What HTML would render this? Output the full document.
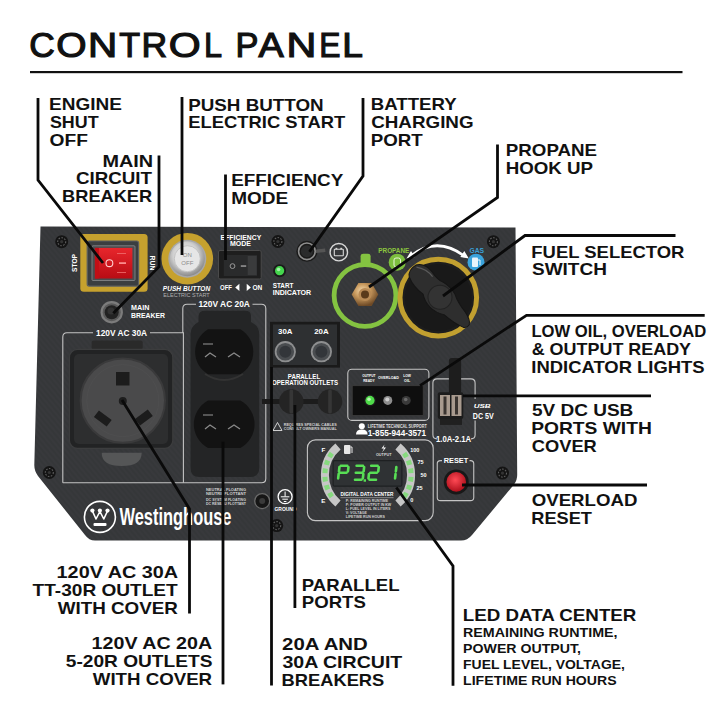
<!DOCTYPE html><html><head><meta charset="utf-8"><style>html,body{margin:0;padding:0;background:#fff;}svg{display:block;}text{font-family:"Liberation Sans",sans-serif;}</style></head><body>
<svg width="720" height="720" viewBox="0 0 720 720">
<defs><pattern id="cf" width="4" height="4" patternUnits="userSpaceOnUse" patternTransform="rotate(-40)"><rect width="4" height="4" fill="#353739"/><rect width="2" height="4" fill="#38393c"/></pattern><radialGradient id="silver" cx="45%" cy="40%" r="60%"><stop offset="0" stop-color="#f4f4f4"/><stop offset="0.6" stop-color="#d0d0d0"/><stop offset="1" stop-color="#8a8a8a"/></radialGradient><radialGradient id="brass" cx="40%" cy="35%" r="65%"><stop offset="0" stop-color="#f5dcb0"/><stop offset="0.45" stop-color="#c99a5e"/><stop offset="1" stop-color="#6e4a26"/></radialGradient><radialGradient id="redbtn" cx="45%" cy="40%" r="60%"><stop offset="0" stop-color="#ff4a55"/><stop offset="1" stop-color="#b0101c"/></radialGradient><radialGradient id="knob" cx="45%" cy="40%" r="60%"><stop offset="0" stop-color="#5a5a5a"/><stop offset="1" stop-color="#1a1a1a"/></radialGradient></defs>
<rect width="720" height="720" fill="#fff"/>
<text x="29.20" y="56.7" font-size="35.32" textLength="25.54" lengthAdjust="spacingAndGlyphs" fill="#111" stroke="#111" stroke-width="1.2">C</text>
<text x="56.25" y="56.7" font-size="35.32" textLength="30.31" lengthAdjust="spacingAndGlyphs" fill="#111" stroke="#111" stroke-width="1.2">O</text>
<text x="88.08" y="56.7" font-size="35.32" textLength="29.22" lengthAdjust="spacingAndGlyphs" fill="#111" stroke="#111" stroke-width="1.2">N</text>
<text x="119.23" y="56.7" font-size="35.32" textLength="20.85" lengthAdjust="spacingAndGlyphs" fill="#111" stroke="#111" stroke-width="1.2">T</text>
<text x="141.43" y="56.7" font-size="35.32" textLength="25.72" lengthAdjust="spacingAndGlyphs" fill="#111" stroke="#111" stroke-width="1.2">R</text>
<text x="168.66" y="56.7" font-size="35.32" textLength="31.91" lengthAdjust="spacingAndGlyphs" fill="#111" stroke="#111" stroke-width="1.2">O</text>
<text x="203.94" y="56.7" font-size="35.32" textLength="18.04" lengthAdjust="spacingAndGlyphs" fill="#111" stroke="#111" stroke-width="1.2">L</text>
<text x="235.38" y="56.7" font-size="35.32" textLength="22.93" lengthAdjust="spacingAndGlyphs" fill="#111" stroke="#111" stroke-width="1.2">P</text>
<text x="258.53" y="56.7" font-size="35.32" textLength="25.25" lengthAdjust="spacingAndGlyphs" fill="#111" stroke="#111" stroke-width="1.2">A</text>
<text x="286.41" y="56.7" font-size="35.32" textLength="29.86" lengthAdjust="spacingAndGlyphs" fill="#111" stroke="#111" stroke-width="1.2">N</text>
<text x="319.24" y="56.7" font-size="35.32" textLength="21.23" lengthAdjust="spacingAndGlyphs" fill="#111" stroke="#111" stroke-width="1.2">E</text>
<text x="342.15" y="56.7" font-size="35.32" textLength="20.69" lengthAdjust="spacingAndGlyphs" fill="#111" stroke="#111" stroke-width="1.2">L</text>
<rect x="30" y="71" width="652.5" height="2.2" fill="#111"/>
<path d="M40.5,226.5 L515.5,227.5 L517.2,474 Q517.4,480 514,484.5 L472,535 Q467.5,540.5 461,540.5 L95,540.5 Q89,540.5 85,535 L38,476 Q34.3,471 34.3,465 Z" fill="url(#cf)"/>
<circle cx="61.7" cy="241.7" r="6.5" fill="#141414"/><circle cx="61.7" cy="241.7" r="4.0" fill="none" stroke="#5e5e5e" stroke-width="1.1" stroke-dasharray="1.6 1.4"/><circle cx="61.7" cy="241.7" r="1.6" fill="#333"/>
<circle cx="277.9" cy="241.5" r="6.5" fill="#141414"/><circle cx="277.9" cy="241.5" r="4.0" fill="none" stroke="#5e5e5e" stroke-width="1.1" stroke-dasharray="1.6 1.4"/><circle cx="277.9" cy="241.5" r="1.6" fill="#333"/>
<circle cx="493.4" cy="241.7" r="6.5" fill="#141414"/><circle cx="493.4" cy="241.7" r="4.0" fill="none" stroke="#5e5e5e" stroke-width="1.1" stroke-dasharray="1.6 1.4"/><circle cx="493.4" cy="241.7" r="1.6" fill="#333"/>
<circle cx="49.3" cy="472.5" r="6.5" fill="#141414"/><circle cx="49.3" cy="472.5" r="4.0" fill="none" stroke="#5e5e5e" stroke-width="1.1" stroke-dasharray="1.6 1.4"/><circle cx="49.3" cy="472.5" r="1.6" fill="#333"/>
<circle cx="502.5" cy="473.1" r="6.5" fill="#141414"/><circle cx="502.5" cy="473.1" r="4.0" fill="none" stroke="#5e5e5e" stroke-width="1.1" stroke-dasharray="1.6 1.4"/><circle cx="502.5" cy="473.1" r="1.6" fill="#333"/>
<circle cx="276.7" cy="525.6" r="6.5" fill="#141414"/><circle cx="276.7" cy="525.6" r="4.0" fill="none" stroke="#5e5e5e" stroke-width="1.1" stroke-dasharray="1.6 1.4"/><circle cx="276.7" cy="525.6" r="1.6" fill="#333"/>
<rect x="80.3" y="234" width="67.3" height="57.7" rx="3.5" fill="#c6a12e"/>
<rect x="87.2" y="241" width="51.4" height="45.1" rx="2" fill="#3b3e40" stroke="#5c5f61" stroke-width="1.2"/>
<rect x="92" y="245.8" width="43" height="34.7" rx="1" fill="#4a4d50" stroke="#8a8c8e" stroke-width="0.8"/>
<linearGradient id="redg" x1="0" y1="0" x2="0" y2="1"><stop offset="0" stop-color="#e8262c"/><stop offset="1" stop-color="#b80c14"/></linearGradient>
<rect x="94.9" y="247.9" width="37.5" height="30.6" fill="url(#redg)"/>
<rect x="94.9" y="247.9" width="4" height="30.6" fill="#c20e16"/>
<circle cx="109.4" cy="263.2" r="3.4" fill="none" stroke="#ffd0d0" stroke-width="1.1"/>
<rect x="119" y="262.3" width="7" height="1.6" fill="#ff9a9a"/>
<rect x="117" y="253" width="9" height="0.8" fill="#f07070"/><rect x="117" y="272" width="9" height="0.8" fill="#f07070"/>
<text x="0" y="0" font-size="7.4" fill="#fff" text-anchor="middle" font-weight="bold" transform="translate(77.4,263) rotate(-90)" textLength="18" lengthAdjust="spacingAndGlyphs">STOP</text>
<text x="0" y="0" font-size="7.4" fill="#fff" text-anchor="middle" font-weight="bold" transform="translate(149.8,263) rotate(90)" textLength="15" lengthAdjust="spacingAndGlyphs">RUN</text>
<circle cx="187.3" cy="258.7" r="25.8" fill="#c6a12e"/>
<circle cx="187.3" cy="258.7" r="19" fill="#a8a8a8"/>
<circle cx="187.3" cy="258.7" r="17.5" fill="url(#silver)"/>
<circle cx="187.3" cy="258.7" r="13" fill="#e6e6e6" stroke="#bdbdbd" stroke-width="0.8"/>
<text x="187.3" y="257.3" font-size="6" fill="#8a8a8a" text-anchor="middle" font-weight="normal" >ON</text>
<text x="187.3" y="264.8" font-size="6" fill="#8a8a8a" text-anchor="middle" font-weight="normal" >OFF</text>
<text x="186.5" y="290.6" font-size="7.2" fill="#fff" text-anchor="middle" font-weight="bold" font-style="italic" textLength="47.3" lengthAdjust="spacingAndGlyphs">PUSH BUTTON</text>
<text x="186.5" y="296.6" font-size="6.2" fill="#b0b0b0" text-anchor="middle" font-weight="normal" textLength="46.3" lengthAdjust="spacingAndGlyphs">ELECTRIC START</text>
<text x="240.9" y="239.5" font-size="7" fill="#fff" text-anchor="middle" font-weight="bold" textLength="40.6" lengthAdjust="spacingAndGlyphs">EFFICIENCY</text>
<text x="240.4" y="246.4" font-size="7" fill="#fff" text-anchor="middle" font-weight="bold" >MODE</text>
<rect x="218.5" y="250.5" width="42.7" height="28.5" rx="1.5" fill="#1e1e1e" stroke="#4a4a4a" stroke-width="1"/>
<rect x="223.8" y="255" width="33.2" height="21" fill="#2a2b2c"/>
<rect x="247.7" y="256" width="9" height="19" fill="#3a3b3c"/>
<circle cx="232.5" cy="266.1" r="2.4" fill="none" stroke="#9a9a9a" stroke-width="1"/>
<rect x="240.8" y="265.3" width="5.4" height="1.5" fill="#9a9a9a"/>
<text x="220" y="290" font-size="7" fill="#fff" text-anchor="start" font-weight="bold" textLength="12" lengthAdjust="spacingAndGlyphs">OFF</text>
<path d="M239.4,283.8 L235.2,287.4 L239.4,291 Z M246.7,283.8 L250.9,287.4 L246.7,291 Z" fill="#fff"/>
<text x="252.5" y="290" font-size="7" fill="#fff" text-anchor="start" font-weight="bold" textLength="9.8" lengthAdjust="spacingAndGlyphs">ON</text>
<circle cx="111.7" cy="312.2" r="11.2" fill="#7c7c7c"/><circle cx="111.7" cy="312.2" r="9" fill="#5a5a5a"/><circle cx="111.7" cy="312.2" r="7" fill="#222"/><circle cx="111" cy="311" r="3.5" fill="#333"/>
<text x="131.1" y="309.7" font-size="7.2" fill="#fff" text-anchor="start" font-weight="bold" textLength="18.3" lengthAdjust="spacingAndGlyphs">MAIN</text>
<text x="131.1" y="318.1" font-size="7.2" fill="#fff" text-anchor="start" font-weight="bold" textLength="33.9" lengthAdjust="spacingAndGlyphs">BREAKER</text>
<circle cx="306.9" cy="251.3" r="10.5" fill="#1a1a1a"/><circle cx="306.9" cy="251.3" r="8.3" fill="none" stroke="#8e8e8e" stroke-width="1.6"/><circle cx="306.9" cy="251.3" r="6" fill="#2a2b2c"/>
<path d="M316,249.5 L325,248.5 L325.5,252 L316,253 Z" fill="#555"/>
<circle cx="338.8" cy="252.2" r="8.7" fill="none" stroke="#d8d8d8" stroke-width="1.4"/><rect x="334.3" y="249.3" width="9" height="6.5" rx="0.5" fill="none" stroke="#d8d8d8" stroke-width="1.1"/><rect x="335.5" y="247.8" width="1.8" height="1.5" fill="#d8d8d8"/><rect x="340.3" y="247.8" width="1.8" height="1.5" fill="#d8d8d8"/>
<circle cx="279.6" cy="270.7" r="6.5" fill="#1a1a1a"/><circle cx="279.6" cy="270.7" r="4.6" fill="#45d64e"/><circle cx="278.6" cy="269.5" r="1.8" fill="#a5f0a8"/>
<text x="272.7" y="288.4" font-size="7.3" fill="#fff" text-anchor="start" font-weight="bold" textLength="20.8" lengthAdjust="spacingAndGlyphs">START</text>
<text x="272.7" y="294.8" font-size="7.3" fill="#fff" text-anchor="start" font-weight="bold" textLength="38.5" lengthAdjust="spacingAndGlyphs">INDICATOR</text>
<rect x="360.6" y="253.8" width="10" height="12" rx="2.5" fill="#84c341"/>
<circle cx="365" cy="295.5" r="30.9" fill="none" stroke="#84c341" stroke-width="4.8"/>
<polygon points="378.3,294.4 371.6,305.9 358.4,305.9 351.7,294.4 358.4,282.9 371.6,282.9" fill="url(#brass)"/>
<circle cx="365" cy="294.4" r="6.5" fill="#b88a55"/><circle cx="365" cy="294.4" r="4" fill="#5a3a1a"/>
<text x="393.8" y="252.5" font-size="6.6" fill="#8cc63f" text-anchor="middle" font-weight="bold" textLength="31" lengthAdjust="spacingAndGlyphs">PROPANE</text>
<circle cx="397.2" cy="262.2" r="8.5" fill="#7cbf3e"/><rect x="394" y="258" width="6.5" height="9" rx="2" fill="none" stroke="#e8f5d8" stroke-width="1"/>
<circle cx="438.3" cy="297.6" r="38.3" fill="#1d1d1d" stroke="#c2a030" stroke-width="5"/>
<circle cx="438.3" cy="297.6" r="33.5" fill="#191919"/>
<g transform="translate(440,297.3) rotate(46)"><path d="M-40,-5 Q-36,-13 -24,-12 Q-14,-10 -8,-13 Q0,-15 8,-13 Q16,-9 28,-8 Q38,-6 40,-2 Q41,2 38,4 Q28,8 16,9 Q8,14 0,14 Q-8,14 -14,10 Q-26,12 -36,8 Q-42,4 -40,-5 Z" fill="#2e2e2e" stroke="#151515" stroke-width="1"/><circle cx="0" cy="0" r="12" fill="#333" stroke="#222" stroke-width="1"/><path d="M-38,-4 Q-30,-10 -20,-9" fill="none" stroke="#5a5a5a" stroke-width="1.2"/></g>
<path d="M410,256.5 Q437,235 465,256.5" fill="none" stroke="#fff" stroke-width="2.8"/>
<path d="M406.5,258.5 l8.5,-1.5 l-4,-6 z M468.8,258.5 l-8.5,-1.5 l4,-6 z" fill="#fff"/>
<text x="476.7" y="252.5" font-size="6.8" fill="#3aa0d8" text-anchor="middle" font-weight="bold" textLength="14.6" lengthAdjust="spacingAndGlyphs">GAS</text>
<circle cx="476" cy="262.2" r="8.5" fill="#3aa3dc"/><rect x="472" y="257.5" width="6" height="9.5" rx="1" fill="#e8f4fb"/><path d="M478,260 h2 v5" fill="none" stroke="#e8f4fb" stroke-width="1"/>
<path d="M62.8,482.8 V337 Q62.8,332.8 67,332.8 H93" fill="none" stroke="#c4c4c4" stroke-width="1.1"/>
<path d="M150,332.8 H183.4 V482.8" fill="none" stroke="#c4c4c4" stroke-width="1.1"/>
<path d="M62.8,482.8 H261.5 Q265.8,482.8 265.8,478.5 V308.5 Q265.8,304.2 261.5,304.2 H252.5" fill="none" stroke="#c4c4c4" stroke-width="1.1"/>
<path d="M196,304.2 H187 Q182.8,304.2 182.8,308.5 V333" fill="none" stroke="#c4c4c4" stroke-width="1.1"/>
<text x="121.6" y="335.6" font-size="8.2" fill="#fff" text-anchor="middle" font-weight="bold" textLength="51" lengthAdjust="spacingAndGlyphs">120V AC 30A</text>
<text x="224.2" y="307" font-size="8.2" fill="#fff" text-anchor="middle" font-weight="bold" textLength="51.5" lengthAdjust="spacingAndGlyphs">120V AC 20A</text>
<rect x="91.7" y="340.6" width="51" height="9" rx="2" fill="#2a2a2a"/>
<rect x="69.4" y="349.4" width="103.4" height="98.9" rx="8" fill="#222324" stroke="#3c3d3e" stroke-width="1.2"/>
<rect x="74" y="354" width="94" height="90" rx="5" fill="#2d2e2f"/>
<circle cx="122.8" cy="400.6" r="42.2" fill="#4a4a4b" stroke="#3a3a3b" stroke-width="2"/>
<circle cx="122.8" cy="400.6" r="36" fill="none" stroke="#4e4e4f" stroke-width="1"/>
<rect x="116" y="372" width="13.5" height="13.5" fill="#1c1c1c"/>
<path d="M93.9,417 l5,-6.5 l12.8,9.5 l-5,6.5 z M152.8,416 l-5,-6.5 l-12.8,9.5 l5,6.5 z" fill="#1c1c1c"/>
<circle cx="122.8" cy="401" r="4" fill="#1e1e1e"/>
<path d="M101.7,452.8 Q101.7,466.1 121.7,466.1 Q141.7,466.1 141.7,452.8 Z" fill="#555657"/>
<path d="M198.5,316 Q199,310.8 205,310.8 H245 Q251,310.8 251,316 V322 Q259.2,326 259.2,334 V468 Q259.2,477 250,477 H199.5 Q190.6,477 190.6,468 V334 Q190.6,326 198.5,322 Z" fill="#242526"/>
<path d="M208,329.3 H240.4 A26,26 0 0,1 240.4,374.2 H208 A26,26 0 0,1 208,329.3 Z" fill="#131313"/>
<path d="M208,400.5 H240.4 A27,27 0 0,1 240.4,448 H208 A27,27 0 0,1 208,400.5 Z" fill="#131313"/>
<path d="M205,357 l5,-4 l6,4 M228,357 l6,-4 l6,4 M205,429 l5,-4 l6,4 M228,429 l6,-4 l6,4" fill="none" stroke="#8a8a8a" stroke-width="1.3"/>
<rect x="203" y="343" width="10" height="2" fill="#555"/><rect x="203" y="414" width="10" height="2" fill="#555"/>
<path d="M205,374 Q224,386 243,374" fill="none" stroke="#333" stroke-width="2"/>
<text x="206" y="491" font-size="4.3" fill="#cfcfcf" text-anchor="start" font-weight="bold" textLength="40" lengthAdjust="spacingAndGlyphs">NEUTRAL FLOATING</text>
<text x="206" y="495.3" font-size="4.3" fill="#cfcfcf" text-anchor="start" font-weight="bold" textLength="40" lengthAdjust="spacingAndGlyphs">NEUTRE FLOTTANT</text>
<text x="206" y="500.5" font-size="4.3" fill="#cfcfcf" text-anchor="start" font-weight="bold" textLength="40" lengthAdjust="spacingAndGlyphs">DC SYSTEM FLOATING</text>
<text x="206" y="504.8" font-size="4.3" fill="#cfcfcf" text-anchor="start" font-weight="bold" textLength="40" lengthAdjust="spacingAndGlyphs">DC RÉSEAU FLOTTANT</text>
<circle cx="262.2" cy="501.1" r="7.5" fill="#161616" stroke="#6a6a6a" stroke-width="1.3"/><circle cx="262.2" cy="501.1" r="3" fill="#3a3a3a"/>
<circle cx="285.1" cy="496.7" r="7" fill="none" stroke="#fff" stroke-width="1.3"/><path d="M285.1,491.5 v5 M280.8,496.8 h8.6 M282.3,499.2 h5.6 M283.8,501.5 h2.6" stroke="#fff" stroke-width="1"/>
<text x="285.5" y="510.6" font-size="5.8" fill="#fff" text-anchor="middle" font-weight="bold" textLength="22" lengthAdjust="spacingAndGlyphs">GROUND</text>
<circle cx="99.9" cy="516.9" r="15.5" fill="none" stroke="#fff" stroke-width="1.6"/>
<path d="M92.4,511 L96,519 L99.9,511.5 L103.8,519 L107.5,511" fill="none" stroke="#fff" stroke-width="1.6" stroke-linejoin="round"/><circle cx="92.4" cy="510.6" r="2.1" fill="#fff"/><circle cx="99.9" cy="510.6" r="2.1" fill="#fff"/><circle cx="107.5" cy="510.6" r="2.1" fill="#fff"/><rect x="93.5" y="523" width="13" height="3" rx="1" fill="#fff"/>
<text x="119.5" y="524.8" font-size="23" font-weight="bold" fill="#fff" textLength="112" lengthAdjust="spacingAndGlyphs">Westinghouse</text>
<rect x="270" y="321.8" width="70" height="45.8" fill="#1a1a1a"/>
<rect x="273" y="324.5" width="64" height="40.5" fill="#2e3032"/>
<text x="285.3" y="333.5" font-size="8" fill="#fff" text-anchor="middle" font-weight="bold" textLength="14.5" lengthAdjust="spacingAndGlyphs">30A</text>
<text x="321.4" y="333.5" font-size="8" fill="#fff" text-anchor="middle" font-weight="bold" textLength="14.5" lengthAdjust="spacingAndGlyphs">20A</text>
<circle cx="285.3" cy="351.7" r="10.6" fill="#8e8f90"/><circle cx="285.3" cy="351.7" r="8.8" fill="#4a4d50"/><circle cx="285.3" cy="351.7" r="6" fill="#33363a"/>
<circle cx="321.4" cy="351.7" r="10.6" fill="#8e8f90"/><circle cx="321.4" cy="351.7" r="8.8" fill="#4a4d50"/><circle cx="321.4" cy="351.7" r="6" fill="#33363a"/>
<text x="304" y="378.6" font-size="6.6" fill="#fff" text-anchor="middle" font-weight="bold" textLength="32.3" lengthAdjust="spacingAndGlyphs">PARALLEL</text>
<text x="305" y="385.3" font-size="6.6" fill="#fff" text-anchor="middle" font-weight="bold" textLength="66" lengthAdjust="spacingAndGlyphs">OPERATION OUTLETS</text>
<rect x="262" y="399" width="80" height="5" fill="#1c1c1c"/>
<circle cx="291.3" cy="401.6" r="12.3" fill="#242424"/><rect x="289.5" y="389.5" width="3.6" height="24" rx="1.5" fill="#363636"/>
<circle cx="330" cy="401.6" r="12.3" fill="#242424"/><rect x="328.2" y="389.5" width="3.6" height="24" rx="1.5" fill="#363636"/>
<path d="M273,430.5 l4.5,-8 l4.5,8 z" fill="none" stroke="#e0e0e0" stroke-width="0.9"/>
<text x="283.7" y="425.9" font-size="4.3" fill="#d0d0d0" text-anchor="start" font-weight="bold" textLength="53" lengthAdjust="spacingAndGlyphs">REQUIRES SPECIAL CABLES</text>
<text x="283.7" y="430" font-size="4.3" fill="#d0d0d0" text-anchor="start" font-weight="bold" textLength="53" lengthAdjust="spacingAndGlyphs">CONSULT OWNERS MANUAL</text>
<rect x="347.8" y="369.3" width="81.1" height="51.1" rx="4" fill="none" stroke="#c4c4c4" stroke-width="1.1"/>
<text x="368.9" y="377.2" font-size="4.4" fill="#fff" text-anchor="middle" font-weight="bold" textLength="13.4" lengthAdjust="spacingAndGlyphs">OUTPUT</text>
<text x="368.9" y="382" font-size="4.4" fill="#fff" text-anchor="middle" font-weight="bold" textLength="11.5" lengthAdjust="spacingAndGlyphs">READY</text>
<text x="388.4" y="379.4" font-size="4.4" fill="#fff" text-anchor="middle" font-weight="bold" textLength="21" lengthAdjust="spacingAndGlyphs">OVERLOAD</text>
<text x="407.1" y="377.2" font-size="4.4" fill="#fff" text-anchor="middle" font-weight="bold" textLength="7.7" lengthAdjust="spacingAndGlyphs">LOW</text>
<text x="407.1" y="382" font-size="4.4" fill="#fff" text-anchor="middle" font-weight="bold" textLength="6" lengthAdjust="spacingAndGlyphs">OIL</text>
<rect x="352.2" y="385.6" width="71.1" height="30" fill="#0e0e0e" stroke="#3a3a3a" stroke-width="1"/>
<circle cx="370" cy="400.4" r="6" fill="#1a1a1a"/><circle cx="370" cy="400.4" r="4.6" fill="#4fdc4a"/><circle cx="369" cy="399.3" r="1.8" fill="#b8f5b0"/>
<circle cx="387.8" cy="400.4" r="4.5" fill="#8d8d8d"/><circle cx="387.3" cy="399.5" r="2" fill="#cfcfcf"/>
<circle cx="406.2" cy="400.4" r="4.5" fill="#3a3a3a"/><circle cx="405.7" cy="399.5" r="1.8" fill="#6a6a6a"/>
<path d="M436,438.9 H437 Q432.9,438.9 432.9,434.8 V383 Q432.9,378.9 437,378.9 H471 Q475.1,378.9 475.1,383 V399 M475.1,420.5 V434.8 Q475.1,438.9 471,438.9" fill="none" stroke="#c4c4c4" stroke-width="1.1"/>
<rect x="448.9" y="358" width="12.2" height="36" rx="3" fill="#1d1d1d"/>
<rect x="437.8" y="392.2" width="25.5" height="26.7" rx="2" fill="#1c1c1c"/>
<rect x="440" y="395" width="10" height="21" fill="#a89a8e"/><rect x="451.5" y="395" width="10" height="21" fill="#a89a8e"/>
<rect x="443.5" y="396.5" width="3" height="18" fill="#3a3430"/><rect x="455" y="396.5" width="3" height="18" fill="#3a3430"/>
<rect x="440" y="418.9" width="22" height="6" fill="#202020"/>
<text x="482.2" y="407.5" font-size="6" fill="#fff" text-anchor="middle" font-weight="bold" font-style="italic" textLength="17" lengthAdjust="spacingAndGlyphs">USB</text>
<text x="483.3" y="418.8" font-size="8.8" fill="#fff" text-anchor="middle" font-weight="bold" textLength="20.9" lengthAdjust="spacingAndGlyphs">DC 5V</text>
<text x="453.6" y="441.9" font-size="8.2" fill="#fff" text-anchor="middle" font-weight="bold" textLength="35.1" lengthAdjust="spacingAndGlyphs">1.0A-2.1A</text>
<circle cx="361.8" cy="426.3" r="3" fill="#fff"/><path d="M356,434.5 Q356,429.5 361.8,429.5 Q367.6,429.5 367.6,434.5 Z" fill="#fff"/>
<text x="367.8" y="427.8" font-size="4.6" fill="#e0e0e0" text-anchor="start" font-weight="bold" textLength="58.9" lengthAdjust="spacingAndGlyphs">LIFETIME TECHNICAL SUPPORT</text>
<text x="367.8" y="436.4" font-size="8.6" fill="#fff" text-anchor="start" font-weight="bold" textLength="58.4" lengthAdjust="spacingAndGlyphs">1-855-944-3571</text>
<rect x="307.4" y="439.9" width="125.8" height="80.7" rx="8" fill="none" stroke="#c4c4c4" stroke-width="1.1"/>
<path d="M338.00,446.53 A37.5,37.5 0 0,0 338.00,503.47" fill="none" stroke="#c6c6c6" stroke-width="8"/>
<path d="M329.44,457.11 A37.5,37.5 0 0,1 331.87,453.22" fill="none" stroke="#86d97e" stroke-width="5"/>
<path d="M326.30,464.85 A37.5,37.5 0 0,1 327.80,460.53" fill="none" stroke="#86d97e" stroke-width="5"/>
<path d="M324.95,473.10 A37.5,37.5 0 0,1 325.46,468.55" fill="none" stroke="#86d97e" stroke-width="5"/>
<path d="M325.46,481.45 A37.5,37.5 0 0,1 324.95,476.90" fill="none" stroke="#86d97e" stroke-width="5"/>
<path d="M327.80,489.47 A37.5,37.5 0 0,1 326.30,485.15" fill="none" stroke="#86d97e" stroke-width="5"/>
<path d="M331.87,496.78 A37.5,37.5 0 0,1 329.44,492.89" fill="none" stroke="#86d97e" stroke-width="5"/>
<path d="M398.00,446.53 A37.5,37.5 0 0,1 398.00,503.47" fill="none" stroke="#c6c6c6" stroke-width="8"/>
<path d="M404.13,453.22 A37.5,37.5 0 0,1 406.56,457.11" fill="none" stroke="#86d97e" stroke-width="5"/>
<path d="M408.20,460.53 A37.5,37.5 0 0,1 409.70,464.85" fill="none" stroke="#86d97e" stroke-width="5"/>
<path d="M410.54,468.55 A37.5,37.5 0 0,1 411.05,473.10" fill="none" stroke="#86d97e" stroke-width="5"/>
<path d="M411.05,476.90 A37.5,37.5 0 0,1 410.54,481.45" fill="none" stroke="#86d97e" stroke-width="5"/>
<path d="M409.70,485.15 A37.5,37.5 0 0,1 408.20,489.47" fill="none" stroke="#86d97e" stroke-width="5"/>
<path d="M406.56,492.89 A37.5,37.5 0 0,1 404.13,496.78" fill="none" stroke="#86d97e" stroke-width="5"/>
<rect x="333.1" y="460.7" width="68.8" height="25.5" rx="1.5" fill="#2f3234" stroke="#1e2022" stroke-width="1.2"/>
<path d="M340.90,465.70 L347.30,465.70 M348.45,467.00 L347.95,471.40 M340.10,472.70 L346.50,472.70 M339.45,467.00 L338.95,471.40 M338.65,474.00 L338.15,478.40 " fill="none" stroke="#58de55" stroke-width="2.6" stroke-linecap="round"/>
<path d="M356.60,465.70 L363.00,465.70 M364.15,467.00 L363.65,471.40 M355.80,472.70 L362.20,472.70 M363.35,474.00 L362.85,478.40 M355.00,479.70 L361.40,479.70 " fill="none" stroke="#58de55" stroke-width="2.6" stroke-linecap="round"/>
<path d="M371.20,465.70 L377.60,465.70 M378.75,467.00 L378.25,471.40 M370.40,472.70 L376.80,472.70 M368.95,474.00 L368.45,478.40 M369.60,479.70 L376.00,479.70 " fill="none" stroke="#58de55" stroke-width="2.6" stroke-linecap="round"/>
<path d="M396.35,467.00 L395.85,471.40 M395.55,474.00 L395.05,478.40 " fill="none" stroke="#58de55" stroke-width="2.6" stroke-linecap="round"/>
<rect x="363.6" y="479.3" width="2.4" height="2.4" fill="#58de55"/>
<text x="323.3" y="451.8" font-size="6.2" fill="#fff" text-anchor="middle" font-weight="bold" >F</text>
<text x="323.3" y="503.2" font-size="6.2" fill="#fff" text-anchor="middle" font-weight="bold" >E</text>
<rect x="344" y="445" width="6.5" height="9" rx="1" fill="#e6e6e6"/><path d="M350.5,447 h1.5 v6" fill="none" stroke="#e6e6e6" stroke-width="1"/>
<path d="M384.5,444.5 l-3,4 h2.5 l-2,4 l4,-5 h-2.5 z" fill="#fff"/>
<text x="383.7" y="456" font-size="3.8" fill="#d8d8d8" text-anchor="middle" font-weight="bold" >OUTPUT</text>
<text x="414.8" y="451.6" font-size="5.5" fill="#fff" text-anchor="middle" font-weight="bold" >100</text>
<text x="420.6" y="464.2" font-size="5.5" fill="#fff" text-anchor="middle" font-weight="bold" >75</text>
<text x="423.5" y="476.9" font-size="5.5" fill="#fff" text-anchor="middle" font-weight="bold" >50</text>
<text x="419.6" y="489.5" font-size="5.5" fill="#fff" text-anchor="middle" font-weight="bold" >25</text>
<text x="411.9" y="502.2" font-size="5.5" fill="#fff" text-anchor="middle" font-weight="bold" >0</text>
<text x="367" y="495.6" font-size="5.6" fill="#fff" text-anchor="middle" font-weight="bold" textLength="53" lengthAdjust="spacingAndGlyphs">DIGITAL DATA CENTER</text>
<rect x="340.5" y="497.5" width="53" height="0.6" fill="#bbb"/>
<text x="345.7" y="502.2" font-size="3.6" fill="#cfcfcf" text-anchor="start" font-weight="bold" >P: REMAINING RUNTIME</text>
<text x="345.7" y="506.15" font-size="3.6" fill="#cfcfcf" text-anchor="start" font-weight="bold" >P: POWER OUTPUT IN KW</text>
<text x="345.7" y="510.09999999999997" font-size="3.6" fill="#cfcfcf" text-anchor="start" font-weight="bold" >L: FUEL LEVEL IN LITERS</text>
<text x="345.7" y="514.05" font-size="3.6" fill="#cfcfcf" text-anchor="start" font-weight="bold" >V: VOLTAGE</text>
<text x="345.7" y="518.0" font-size="3.6" fill="#cfcfcf" text-anchor="start" font-weight="bold" >LIFETIME RUN HOURS</text>
<text x="456" y="462.6" font-size="8" fill="#fff" text-anchor="middle" font-weight="bold" textLength="24.4" lengthAdjust="spacingAndGlyphs">RESET</text>
<path d="M442,460.6 H440.5 Q437.25,460.6 437.25,463.8 V497.4 Q437.25,500.6 440.5,500.6 H470.5 Q473.75,500.6 473.75,497.4 V463.8 Q473.75,460.6 470.5,460.6 H469.5" fill="none" stroke="#c4c4c4" stroke-width="1.1"/>
<circle cx="456.25" cy="481.9" r="12.5" fill="#181818"/><circle cx="456.25" cy="481.9" r="9.8" fill="url(#redbtn)"/>
<path d="M38,98 V180 L103,263" fill="none" stroke="#0a0a0a" stroke-width="2.8" stroke-linejoin="miter"/>
<path d="M159,155.5 V266.7 L113.3,313.3" fill="none" stroke="#0a0a0a" stroke-width="2.8" stroke-linejoin="miter"/>
<path d="M182,97 V255" fill="none" stroke="#0a0a0a" stroke-width="2.8" stroke-linejoin="miter"/>
<path d="M225.5,174.5 V260" fill="none" stroke="#0a0a0a" stroke-width="2.8" stroke-linejoin="miter"/>
<path d="M363,98 V176 L309.4,251.9" fill="none" stroke="#0a0a0a" stroke-width="2.8" stroke-linejoin="miter"/>
<path d="M497.5,144.5 V197.5 L369,287" fill="none" stroke="#0a0a0a" stroke-width="2.8" stroke-linejoin="miter"/>
<path d="M675.5,235.5 H525 L443,296" fill="none" stroke="#0a0a0a" stroke-width="2.8" stroke-linejoin="miter"/>
<path d="M704.7,315.3 H526.5 L420,385.6" fill="none" stroke="#0a0a0a" stroke-width="2.8" stroke-linejoin="miter"/>
<path d="M651,395.8 H463" fill="none" stroke="#0a0a0a" stroke-width="2.8" stroke-linejoin="miter"/>
<path d="M647,485 H462" fill="none" stroke="#0a0a0a" stroke-width="2.8" stroke-linejoin="miter"/>
<path d="M396.3,487.5 L453,566 V685.7" fill="none" stroke="#0a0a0a" stroke-width="2.8" stroke-linejoin="miter"/>
<path d="M122,400 L189.5,509 V613.6" fill="none" stroke="#0a0a0a" stroke-width="2.8" stroke-linejoin="miter"/>
<path d="M223,441.7 V684.4" fill="none" stroke="#0a0a0a" stroke-width="2.8" stroke-linejoin="miter"/>
<path d="M294.9,405 V608" fill="none" stroke="#0a0a0a" stroke-width="2.8" stroke-linejoin="miter"/>
<path d="M271.5,367 V685.5" fill="none" stroke="#0a0a0a" stroke-width="2.8" stroke-linejoin="miter"/>
<text x="49.1" y="110.4" font-size="16.86" textLength="72.7" lengthAdjust="spacingAndGlyphs" font-weight="bold" fill="#111">ENGINE</text>
<text x="49.9" y="128.0" font-size="16.86" textLength="48.7" lengthAdjust="spacingAndGlyphs" font-weight="bold" fill="#111">SHUT</text>
<text x="49.6" y="145.5" font-size="16.86" textLength="38.4" lengthAdjust="spacingAndGlyphs" font-weight="bold" fill="#111">OFF</text>
<text x="102.5" y="166.7" font-size="16.86" textLength="50.7" lengthAdjust="spacingAndGlyphs" font-weight="bold" fill="#111">MAIN</text>
<text x="75.9" y="184.4" font-size="16.86" textLength="76.1" lengthAdjust="spacingAndGlyphs" font-weight="bold" fill="#111">CIRCUIT</text>
<text x="62.1" y="202.2" font-size="16.86" textLength="90.1" lengthAdjust="spacingAndGlyphs" font-weight="bold" fill="#111">BREAKER</text>
<text x="188.2" y="110.5" font-size="16.86" textLength="135.5" lengthAdjust="spacingAndGlyphs" font-weight="bold" fill="#111">PUSH BUTTON</text>
<text x="188.3" y="128.0" font-size="16.86" textLength="156.9" lengthAdjust="spacingAndGlyphs" font-weight="bold" fill="#111">ELECTRIC START</text>
<text x="231.2" y="186.3" font-size="16.86" textLength="112.1" lengthAdjust="spacingAndGlyphs" font-weight="bold" fill="#111">EFFICIENCY</text>
<text x="231.2" y="204.0" font-size="16.86" textLength="57.0" lengthAdjust="spacingAndGlyphs" font-weight="bold" fill="#111">MODE</text>
<text x="370.8" y="110.2" font-size="16.86" textLength="85.8" lengthAdjust="spacingAndGlyphs" font-weight="bold" fill="#111">BATTERY</text>
<text x="371.2" y="127.9" font-size="16.86" textLength="102.4" lengthAdjust="spacingAndGlyphs" font-weight="bold" fill="#111">CHARGING</text>
<text x="370.7" y="145.5" font-size="16.86" textLength="52.0" lengthAdjust="spacingAndGlyphs" font-weight="bold" fill="#111">PORT</text>
<text x="505.8" y="156.3" font-size="16.86" textLength="91.3" lengthAdjust="spacingAndGlyphs" font-weight="bold" fill="#111">PROPANE</text>
<text x="505.7" y="174.0" font-size="16.86" textLength="87.4" lengthAdjust="spacingAndGlyphs" font-weight="bold" fill="#111">HOOK UP</text>
<text x="531.3" y="257.5" font-size="16.86" textLength="153.1" lengthAdjust="spacingAndGlyphs" font-weight="bold" fill="#111">FUEL SELECTOR</text>
<text x="532.0" y="275.2" font-size="16.86" textLength="74.9" lengthAdjust="spacingAndGlyphs" font-weight="bold" fill="#111">SWITCH</text>
<text x="531.4" y="337.0" font-size="16.86" textLength="174.8" lengthAdjust="spacingAndGlyphs" font-weight="bold" fill="#111">LOW OIL, OVERLOAD</text>
<text x="531.7" y="355.0" font-size="16.86" textLength="159.4" lengthAdjust="spacingAndGlyphs" font-weight="bold" fill="#111">&amp; OUTPUT READY</text>
<text x="531.3" y="372.8" font-size="16.86" textLength="173.3" lengthAdjust="spacingAndGlyphs" font-weight="bold" fill="#111">INDICATOR LIGHTS</text>
<text x="531.9" y="415.5" font-size="16.86" textLength="101.4" lengthAdjust="spacingAndGlyphs" font-weight="bold" fill="#111">5V DC USB</text>
<text x="531.2" y="433.6" font-size="16.86" textLength="120.6" lengthAdjust="spacingAndGlyphs" font-weight="bold" fill="#111">PORTS WITH</text>
<text x="531.8" y="451.7" font-size="16.86" textLength="65.0" lengthAdjust="spacingAndGlyphs" font-weight="bold" fill="#111">COVER</text>
<text x="531.7" y="505.8" font-size="16.86" textLength="105.7" lengthAdjust="spacingAndGlyphs" font-weight="bold" fill="#111">OVERLOAD</text>
<text x="531.3" y="523.8" font-size="16.86" textLength="60.6" lengthAdjust="spacingAndGlyphs" font-weight="bold" fill="#111">RESET</text>
<text x="56.6" y="577.8" font-size="16.86" textLength="121.5" lengthAdjust="spacingAndGlyphs" font-weight="bold" fill="#111">120V AC 30A</text>
<text x="32.6" y="595.5" font-size="16.86" textLength="145.1" lengthAdjust="spacingAndGlyphs" font-weight="bold" fill="#111">TT-30R OUTLET</text>
<text x="57.8" y="613.5" font-size="16.86" textLength="120.1" lengthAdjust="spacingAndGlyphs" font-weight="bold" fill="#111">WITH COVER</text>
<text x="91.6" y="648.9" font-size="16.86" textLength="120.6" lengthAdjust="spacingAndGlyphs" font-weight="bold" fill="#111">120V AC 20A</text>
<text x="65.8" y="667.0" font-size="16.86" textLength="146.6" lengthAdjust="spacingAndGlyphs" font-weight="bold" fill="#111">5-20R OUTLETS</text>
<text x="92.8" y="685.0" font-size="16.86" textLength="119.3" lengthAdjust="spacingAndGlyphs" font-weight="bold" fill="#111">WITH COVER</text>
<text x="301.8" y="590.5" font-size="16.86" textLength="97.7" lengthAdjust="spacingAndGlyphs" font-weight="bold" fill="#111">PARALLEL</text>
<text x="301.8" y="608.0" font-size="16.86" textLength="64.0" lengthAdjust="spacingAndGlyphs" font-weight="bold" fill="#111">PORTS</text>
<text x="282.1" y="649.7" font-size="16.86" textLength="85.7" lengthAdjust="spacingAndGlyphs" font-weight="bold" fill="#111">20A AND</text>
<text x="282.4" y="667.7" font-size="16.86" textLength="119.9" lengthAdjust="spacingAndGlyphs" font-weight="bold" fill="#111">30A CIRCUIT</text>
<text x="281.6" y="685.8" font-size="16.86" textLength="102.7" lengthAdjust="spacingAndGlyphs" font-weight="bold" fill="#111">BREAKERS</text>
<text x="462.8" y="620.7" font-size="16.86" textLength="173.6" lengthAdjust="spacingAndGlyphs" font-weight="bold" fill="#111">LED DATA CENTER</text>
<text x="463.0" y="636.7" font-size="12.79" textLength="154.6" lengthAdjust="spacingAndGlyphs" font-weight="bold" fill="#111">REMAINING RUNTIME,</text>
<text x="463.1" y="652.7" font-size="12.79" textLength="117.9" lengthAdjust="spacingAndGlyphs" font-weight="bold" fill="#111">POWER OUTPUT,</text>
<text x="463.1" y="668.8" font-size="12.79" textLength="161.8" lengthAdjust="spacingAndGlyphs" font-weight="bold" fill="#111">FUEL LEVEL, VOLTAGE,</text>
<text x="463.1" y="685.0" font-size="12.79" textLength="153.5" lengthAdjust="spacingAndGlyphs" font-weight="bold" fill="#111">LIFETIME RUN HOURS</text>
</svg></body></html>
